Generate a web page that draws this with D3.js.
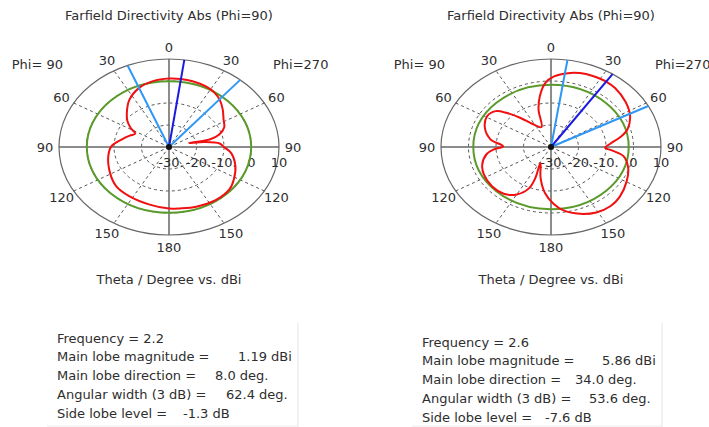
<!DOCTYPE html>
<html><head><meta charset="utf-8">
<script src="https://cdn.jsdelivr.net/npm/d3@7"></script>
<style>
body{margin:0;background:#fff}
svg text{font-family:"DejaVu Sans",Verdana,sans-serif;fill:#2e2e2e;font-size:13px}
</style>
</head><body>
<svg id="c" width="709" height="427"></svg>
<script>
// ---- data ----
const titles = ["Farfield Directivity Abs (Phi=90)", "Farfield Directivity Abs (Phi=90)"];
const angleTicks = [0, 30, 60, 90, 120, 150, 180];
const ringTicks = [-30, -20, -10, 0, 10];
const ringLabels = ["-30.", "-20.", "-10.", "0", "10"];
const phiLabels = ["Phi= 90", "Phi=270"];
const axisTitle = "Theta / Degree vs. dBi";

const leftTheta = [-180,-165,-147,-133,-119,-101,-89,-79,-70,-64,-58,-52,-45,-34,-22,-11,0,8,16,26,34,41,49,58,66,73,77,76,80,85,90,97,110,122,131,145,160,172];
const leftDb    = [-2.0,-2.9,-3.4,-3.8,-5.5,-7.5,-9.1,-12.4,-14.8,-16.3,-13.5,-10.8,-8.3,-4.2,-1.0,0.5,1.1,1.19,1.1,0.6,-0.3,-1.8,-4.1,-6.6,-8.0,-11.0,-14.8,-22.5,-17.0,-11.5,-10.0,-7.2,-4.3,-2.2,-0.8,-0.5,-1.1,-1.8];

const rightTheta = [178,-174,-165,-152,-158,-157,-150,-141,-130,-117,-108,-98,-93,-89,-81,-70,-59,-51,-46,-40,-33,-21,-15,-10,-4,2,12,21,30,34,41,53,64,74,80,86,91,94,99,109,120,132,141,151,161,171];
const rightDb    = [-4.2,-9.0,-15.4,-21.8,-14.8,-9.7,-5.1,-2.7,-2.1,-2.6,-3.7,-6.3,-9.2,-12.6,-7.7,-4.4,-2.9,-4.1,-7.8,-12.8,-17.4,-20.3,-12.5,-6.6,-0.8,2.1,4.4,5.5,5.8,5.86,5.5,4.0,2.0,-1.1,-4.5,-8.4,-10.3,-7.8,-3.3,-0.3,1.7,3.7,4.5,4.0,2.1,-0.8];

const frequency = ["2.2", "2.6"];
const mainMag = [1.19, 5.86];
const mainDir = [8.0, 34.0];
const beamEdges = [[-22.1, 40.3], [8.6, 62.2]];
const angularWidth = [62.4, 53.6];
const sideLobe = [-1.3, -7.6];

// ---- drawing ----
const svg = d3.select("#c");
const panels = [
  {cx:169, cy:147, theta:leftTheta, db:leftDb, i:0, box:{x:57, y0:338, vx:[238,215,226,183], right:298}},
  {cx:551, cy:147, theta:rightTheta, db:rightDb, i:1, box:{x:422, y0:342, vx:[602,575,589,545], right:662}}
];
const RX = 110, RY = 88;
const rScale = d3.scaleLinear().domain([-30, 10]).range([0, 1]);
const aScale = d3.scaleLinear().domain([0, 360]).range([0, 2*Math.PI]);

panels.forEach(p => {
  const g = svg.append("g");
  const px = (th, r) => p.cx + RX * r * Math.sin(aScale(th));
  const py = (th, r) => p.cy - RY * r * Math.cos(aScale(th));

  g.append("text").attr("x", p.cx).attr("y", 20).attr("text-anchor","middle").text(titles[p.i]);

  ringTicks.slice(1, -1).forEach(v => {
    g.append("ellipse").attr("cx", p.cx).attr("cy", p.cy)
      .attr("rx", RX*rScale(v)).attr("ry", RY*rScale(v))
      .attr("fill","none").attr("stroke","#555").attr("stroke-width",1).attr("stroke-dasharray","3,3");
  });
  g.append("ellipse").attr("cx", p.cx).attr("cy", p.cy)
    .attr("rx", RX).attr("ry", RY).attr("fill","none").attr("stroke","#666").attr("stroke-width",1.2);

  d3.range(0, 360, 30).forEach(a => {
    const solid = a % 90 === 0;
    g.append("line").attr("x1", p.cx).attr("y1", p.cy)
      .attr("x2", px(a, 1)).attr("y2", py(a, 1))
      .attr("stroke", solid ? "#666" : "#555").attr("stroke-width", solid ? 1.5 : 1)
      .attr("stroke-dasharray", solid ? null : "3,3");
  });

  angleTicks.forEach(t => {
    const sides = (t === 0 || t === 180) ? [t] : [t, -t];
    sides.forEach(a => {
      g.append("text").attr("x", p.cx + (RX+14)*Math.sin(aScale(a)))
        .attr("y", p.cy - (RY+12)*Math.cos(aScale(a)))
        .attr("text-anchor","middle").attr("dominant-baseline","central").text(Math.abs(a));
    });
  });
  g.append("text").attr("x", p.cx-106).attr("y", 64).attr("text-anchor","end").attr("dominant-baseline","central").text(phiLabels[0]);
  g.append("text").attr("x", p.cx+104).attr("y", 64).attr("text-anchor","start").attr("dominant-baseline","central").text(phiLabels[1]);

  ringTicks.forEach((v, k) => {
    g.append("text").attr("x", p.cx + RX*rScale(v) + (k < 2 ? 2 : 0)).attr("y", p.cy + 15)
      .attr("text-anchor","middle").attr("dominant-baseline","central").text(ringLabels[k]);
  });

  const sl = rScale(mainMag[p.i] + sideLobe[p.i]);
  g.append("ellipse").attr("cx", p.cx).attr("cy", p.cy).attr("rx", RX*sl).attr("ry", RY*sl)
    .attr("fill","none").attr("stroke","#5a9a2a").attr("stroke-width",2);

  const pts = p.theta.map((t, k) => [px(t, rScale(p.db[k])), py(t, rScale(p.db[k]))]);
  g.append("path").attr("d", d3.line().curve(d3.curveCatmullRomClosed.alpha(0.5))(pts))
    .attr("fill","none").attr("stroke","#f01010").attr("stroke-width",2);

  beamEdges[p.i].forEach(a => {
    g.append("line").attr("x1", p.cx).attr("y1", p.cy).attr("x2", px(a,1)).attr("y2", py(a,1))
      .attr("stroke","#2f97f5").attr("stroke-width",2);
  });
  g.append("line").attr("x1", p.cx).attr("y1", p.cy).attr("x2", px(mainDir[p.i],1)).attr("y2", py(mainDir[p.i],1))
    .attr("stroke","#1a1ae0").attr("stroke-width",2);
  g.append("circle").attr("cx", p.cx).attr("cy", p.cy).attr("r", 3).attr("fill","#111");

  g.append("text").attr("x", p.cx).attr("y", 279).attr("text-anchor","middle").attr("dominant-baseline","central").text(axisTitle);

  const b = p.box;
  g.append("line").attr("x1", b.right).attr("x2", b.right).attr("y1", 323).attr("y2", 427).attr("stroke","#e4e4e4");
  g.append("line").attr("x1", b.x-10).attr("x2", b.right).attr("y1", 426).attr("y2", 426).attr("stroke","#ececec");
  const labels = ["Frequency = " + frequency[p.i], "Main lobe magnitude =", "Main lobe direction =", "Angular width (3 dB) =", "Side lobe level ="];
  const values = [mainMag[p.i].toFixed(2) + " dBi", mainDir[p.i].toFixed(1) + " deg.", angularWidth[p.i].toFixed(1) + " deg.", sideLobe[p.i].toFixed(1) + " dB"];
  labels.forEach((t, k) => {
    g.append("text").attr("x", b.x).attr("y", b.y0 + k*18.8).attr("dominant-baseline","central").text(t);
  });
  values.forEach((t, k) => {
    g.append("text").attr("x", b.vx[k]).attr("y", b.y0 + (k+1)*18.8).attr("dominant-baseline","central").text(t);
  });
});
</script>
</body></html>
